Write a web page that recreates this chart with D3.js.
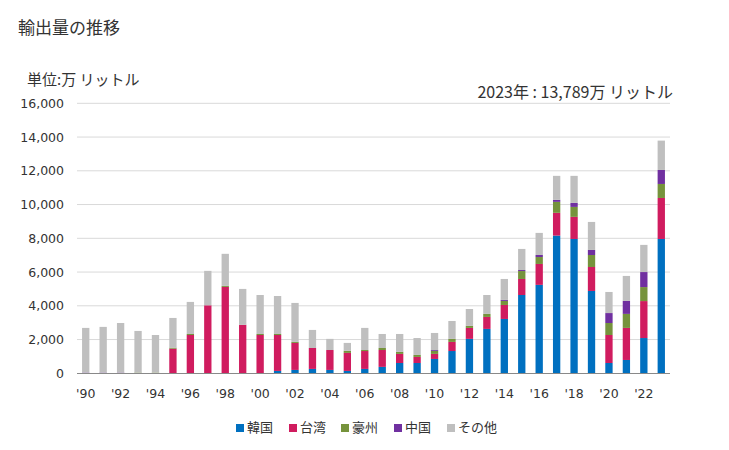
<!DOCTYPE html>
<html><head><meta charset="utf-8">
<script src="https://cdn.jsdelivr.net/npm/d3@7"></script>
<style>
body{margin:0;background:#fff;}
text{font-family:"Noto Sans CJK JP","Noto Sans",sans-serif;fill:#333;}
text.num{font-family:"DejaVu Sans",sans-serif;}
</style></head>
<body><svg id="c" width="729" height="450"></svg>
<script>
const years = d3.range(1990, 2024);
const seriesNames = ["韓国","台湾","豪州","中国","その他"];
const colors = ["#0070c0","#d01c5f","#76933c","#7030a0","#bfbfbf"];
const korea =     [0,0,0,0,0,0,0,0,0,0,0,140,200,260,200,140,260,380,610,610,850,1320,2040,2630,3220,4640,5240,8160,7960,4880,610,790,2090,7960];
const taiwan =    [0,0,0,0,0,1460,2270,4030,5120,2870,2270,2130,1600,1240,1180,1070,1060,1000,540,360,300,540,650,710,830,950,1240,1350,1310,1420,1660,1900,2190,2430];
const australia = [0,0,0,40,40,60,60,0,60,0,60,60,60,0,0,120,60,120,120,120,180,180,120,180,240,470,410,650,590,710,710,830,830,830];
const china =     [40,40,40,0,0,0,0,0,0,0,0,0,0,0,0,0,0,0,0,0,50,0,0,0,60,60,120,120,240,300,590,770,890,830];
const other =     [2650,2710,2940,2470,2230,1760,1900,2040,1900,2130,2310,2250,2310,1070,660,470,1310,830,1060,1000,1010,1060,1000,1120,1240,1250,1310,1420,1600,1660,1250,1480,1610,1739];
const yTicks = [0,2000,4000,6000,8000,10000,12000,14000,16000];
const title = "輸出量の推移";
const unitLabel = "単位:万 リットル";
const note = "2023年 : 13,789万 リットル";

const svg = d3.select("#c");
const allSeries = [korea, taiwan, australia, china, other];
const table = years.map((y,i)=>{const o={year:y}; seriesNames.forEach((n,k)=>o[n]=allSeries[k][i]); return o;});
const stacked = d3.stack().keys(seriesNames)(table);

const x = d3.scaleBand().domain(years).range([77,670]).paddingInner(0.58).paddingOuter(0.29);
const y = d3.scaleLinear().domain([0,16000]).range([373.3,103.3]);

// grid
svg.append("g").selectAll("line").data(yTicks.filter(d=>d>0)).join("line")
  .attr("x1",77).attr("x2",670).attr("y1",d=>y(d)).attr("y2",d=>y(d))
  .attr("stroke","#d9d9d9").attr("stroke-width",1);

// y labels
svg.append("g").selectAll("text").data(yTicks).join("text")
  .attr("class","num")
  .attr("x",64).attr("y",d=>y(d)+4.5).attr("text-anchor","end")
  .style("font-size","12.5px").text(d=>d3.format(",")(d));

// bars
svg.append("g").selectAll("g").data(stacked).join("g")
  .attr("fill",(d,i)=>colors[i])
  .selectAll("rect").data(d=>d).join("rect")
  .attr("x",d=>x(d.data.year)).attr("width",x.bandwidth())
  .attr("y",d=>y(d[1])).attr("height",d=>Math.max(0,y(d[0])-y(d[1])));

// x axis line
svg.append("line").attr("x1",77).attr("x2",670).attr("y1",373.5).attr("y2",373.5)
  .attr("stroke","#898989").attr("stroke-width",1);

// x labels
svg.append("g").selectAll("text").data(years.filter(d=>d%2===0)).join("text")
  .attr("class","num")
  .attr("x",d=>x(d)+x.bandwidth()/2).attr("y",398).attr("text-anchor","middle")
  .style("font-size","12.5px").text(d=>"'"+String(d).slice(2));

// titles
svg.append("text").attr("x",18).attr("y",34).style("font-size","17px").text(title);
svg.append("text").attr("x",27).attr("y",85).style("font-size","15px").text(unitLabel);
svg.append("text").attr("x",673).attr("y",98).attr("text-anchor","end").style("font-size","16px").text(note);

// legend
const lx = [236,289,341,394,447];
const lg = svg.append("g").selectAll("g").data(seriesNames).join("g")
  .attr("transform",(d,i)=>`translate(${lx[i]},0)`);
lg.append("rect").attr("x",0).attr("y",424).attr("width",8).attr("height",8).attr("fill",(d,i)=>colors[i]);
lg.append("text").attr("x",11).attr("y",432).style("font-size","13px").text(d=>d);
</script></body></html>
